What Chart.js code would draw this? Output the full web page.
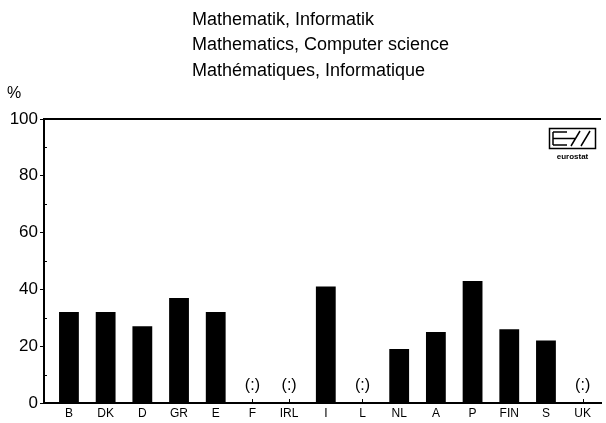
<!DOCTYPE html>
<html><head><meta charset="utf-8">
<script src="https://cdn.jsdelivr.net/npm/chart.js@4/dist/chart.umd.min.js"></script>
<style>html,body{margin:0;padding:0;background:#fff}#wrap{width:606px;height:423px;position:relative}</style>
</head><body><div id="wrap"><canvas id="c" width="606" height="423"></canvas></div>
<script>
const categories = ['B','DK','D','GR','E','F','IRL','I','L','NL','A','P','FIN','S','UK'];
const values = [32,32,27,37,32,null,null,41,null,19,25,43,26,22,null];
const yTicks = [0,20,40,60,80,100];
const titleLines = ['Mathematik, Informatik','Mathematics, Computer science','Mathématiques, Informatique'];
const missingLabel = '(:)';
const unitLabel = '%';

const FONT = '"Liberation Sans", Arial, Helvetica, sans-serif';

const deco = {
  id: 'deco',
  afterDatasetsDraw(chart) {
    const ctx = chart.ctx, ca = chart.chartArea;
    const x = chart.scales.x, y = chart.scales.y;
    ctx.save();
    ctx.fillStyle = '#000'; ctx.strokeStyle = '#000';
    // title
    ctx.font = '18px ' + FONT;
    ctx.textBaseline = 'middle'; ctx.textAlign = 'left';
    titleLines.forEach((t, i) => ctx.fillText(t, 192, 20 + i * 25.5));
    ctx.font = '16px ' + FONT;
    ctx.fillText(unitLabel, 7, 94);
    // top frame line
    ctx.lineWidth = 2;
    ctx.beginPath(); ctx.moveTo(ca.left, ca.top); ctx.lineTo(ca.right, ca.top); ctx.stroke();
    // minor y ticks
    ctx.lineWidth = 1;
    for (let v = 10; v < 100; v += 20) {
      const py = Math.round(y.getPixelForValue(v)) + 0.5;
      ctx.beginPath(); ctx.moveTo(ca.left, py); ctx.lineTo(ca.left + 3, py); ctx.stroke();
    }
    // x ticks inward
    categories.forEach((c, i) => {
      const px = Math.round(x.getPixelForValue(i)) + 0.5;
      ctx.beginPath(); ctx.moveTo(px, ca.bottom); ctx.lineTo(px, ca.bottom - 4); ctx.stroke();
    });
    // missing labels
    ctx.font = '16px ' + FONT; ctx.textAlign = 'center';
    values.forEach((v, i) => {
      if (v === null) ctx.fillText(missingLabel, x.getPixelForValue(i), ca.bottom - 17);
    });
    // eurostat logo
    ctx.lineWidth = 1.5;
    ctx.strokeRect(549.5, 128.5, 46, 20);
    ctx.beginPath();
    ctx.moveTo(553, 132); ctx.lineTo(567, 132);
    ctx.moveTo(553, 138.5); ctx.lineTo(565, 138.5);
    ctx.moveTo(553, 145); ctx.lineTo(567, 145);
    ctx.moveTo(553, 132); ctx.lineTo(553, 145);
    ctx.moveTo(571, 146); ctx.lineTo(580, 131);
    ctx.moveTo(581, 146); ctx.lineTo(590, 131);
    ctx.moveTo(565, 138.5); ctx.lineTo(575, 138.5);
    ctx.stroke();
    ctx.font = 'bold 8px ' + FONT; ctx.textAlign = 'center';
    ctx.fillText('eurostat', 572.5, 157);
    ctx.restore();
  }
};

new Chart(document.getElementById('c'), {
  type: 'bar',
  data: {
    datasets: [{ data: values.map((v, i) => ({ x: i, y: v })), backgroundColor: '#000', borderWidth: 0,
      categoryPercentage: 1.0, barPercentage: 0.54 }]
  },
  options: {
    responsive: false, animation: false,
    layout: { padding: { top: 119, right: 5, left: 0, bottom: 0 } },
    plugins: { legend: { display: false }, tooltip: { enabled: false }, title: { display: false } },
    scales: {
      x: {
        type: 'linear', min: -0.68, max: 14.5, offset: false,
        afterBuildTicks(s) { s.ticks = categories.map((c, i) => ({ value: i })); },
        grid: { display: false, drawTicks: false },
        border: { display: true, color: '#000', width: 2 },
        ticks: { color: '#000', font: { family: FONT, size: 12 }, padding: 3, maxRotation: 0, autoSkip: false,
          callback: (v) => categories[v] },
        afterFit(s) { s.height = 20; }
      },
      y: {
        min: 0, max: 100,
        afterBuildTicks(s) { s.ticks = yTicks.map(v => ({ value: v })); },
        grid: { drawOnChartArea: false, drawTicks: true, tickLength: 4, color: '#000' },
        border: { display: true, color: '#000', width: 2 },
        ticks: { color: '#000', font: { family: FONT, size: 17 }, padding: 2 },
        afterFit(s) { s.width = 44; }
      }
    }
  },
  plugins: [deco]
});
</script></body></html>
